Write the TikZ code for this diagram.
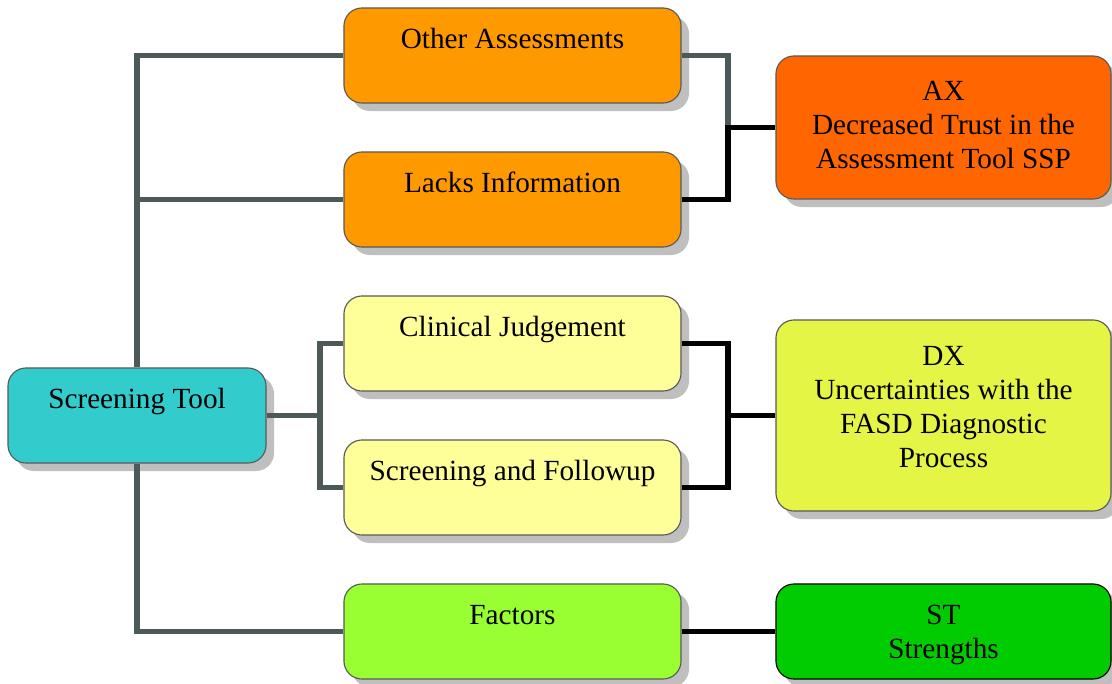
\documentclass[tikz,border=0pt]{standalone}
\usepackage{fontspec}
\setmainfont{Liberation Serif}
\usepackage{tikz}
\usetikzlibrary{shadows,calc}

\definecolor{teal1}{RGB}{51,204,204}
\definecolor{orange1}{RGB}{255,153,0}
\definecolor{orange2}{RGB}{255,102,0}
\definecolor{yellow1}{RGB}{255,255,153}
\definecolor{yellow2}{RGB}{229,245,69}
\definecolor{green1}{RGB}{153,255,51}
\definecolor{green2}{RGB}{0,204,0}
\definecolor{linegray}{RGB}{77,89,89}

\begin{document}
\begin{tikzpicture}[x=0.025cm, y=-0.025cm,
    box/.style={draw=black!65, line width=0.8pt, rounded corners=0.45cm,
        inner sep=0pt, align=center, minimum height=2.375cm,
        font=\fontsize{20.8}{24.2}\selectfont,
        drop shadow={shadow xshift=0.2cm, shadow yshift=-0.2cm, fill=black!25, opacity=1}},
    midbox/.style={box, minimum width=8.425cm},
    endbox/.style={box, minimum width=8.375cm},
    grayline/.style={draw=linegray, line width=3.6pt},
    blackline/.style={draw=black, line width=3.6pt}]
    \useasboundingbox (0,0) rectangle (1112,684);

    % Left box
    \node[box, fill=teal1, minimum width=6.45cm] (st) at (137,415.5) {Screening Tool\\ \mbox{}};

    % Middle column
    \node[midbox, fill=orange1] (oa) at (512.5,55.5) {Other Assessments\\ \mbox{}};
    \node[midbox, fill=orange1] (li) at (512.5,199.5) {Lacks Information\\ \mbox{}};
    \node[midbox, fill=yellow1] (cj) at (512.5,343.5) {Clinical Judgement\\ \mbox{}};
    \node[midbox, fill=yellow1] (sf) at (512.5,487.5) {Screening and Followup\\ \mbox{}};
    \node[midbox, fill=green1] (fa) at (512.5,631.5) {Factors\\ \mbox{}};

    % Right column
    \node[endbox, fill=orange2, minimum height=3.575cm] (ax) at (943.5,127.5)
        {AX\\Decreased Trust in the\\Assessment Tool SSP\\[-21pt]\mbox{}};
    \node[endbox, fill=yellow2, minimum height=4.775cm] (dx) at (943.5,415.5)
        {DX\\Uncertainties with the\\FASD Diagnostic\\Process\\[-12pt]\mbox{}};
    \node[endbox, fill=green2, draw=black, text depth=0pt] (sg) at (943.5,631.5) {ST\\Strengths};

    % Junctions
    \coordinate (j1) at (320,415.5);
    \coordinate (j2) at (728,127.5);
    \coordinate (j3) at (728,415.5);

    % Connectors
    \draw[grayline] (st.north) |- (oa.west);
    \draw[grayline] (st.north) |- (li.west);
    \draw[grayline] (st.south) |- (fa.west);
    \draw[grayline] (st.east) -- (j1) |- (cj.west);
    \draw[grayline] (j1) |- (sf.west);
    \draw[grayline] (oa.east) -| (j2);
    \draw[blackline] (li.east) -| (j2) -- (ax.west);
    \draw[blackline] (cj.east) -| (j3) -- (dx.west);
    \draw[blackline] (sf.east) -| (j3);
    \draw[blackline] (fa.east) -- (sg.west);
\end{tikzpicture}
\end{document}
